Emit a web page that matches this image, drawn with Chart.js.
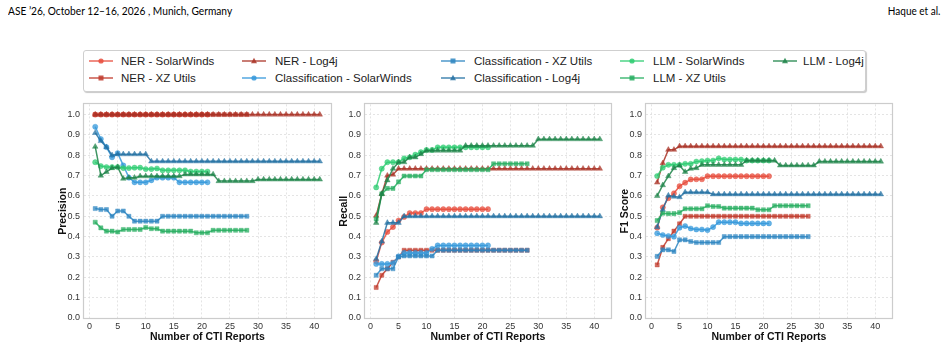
<!DOCTYPE html>
<html><head><meta charset="utf-8">
<script src="https://cdn.jsdelivr.net/npm/chart.js@4.4.0/dist/chart.umd.min.js"></script>
<style>
html,body{margin:0;padding:0;background:#fff;}
body{width:948px;height:349px;position:relative;overflow:hidden;font-family:"Liberation Sans",Arial,sans-serif;}
.hdr{position:absolute;top:4px;font-family:Lato,"Liberation Sans",sans-serif;font-size:11.5px;color:#000;line-height:14px;white-space:nowrap;}
canvas{position:absolute;}
#legend{position:absolute;left:83px;top:50px;width:781px;height:40px;border:1px solid #cfcfcf;border-radius:3px;box-shadow:1px 1px 1px rgba(0,0,0,0.22);background:#fff;}
.lt{position:absolute;font-size:11.5px;color:#222;white-space:nowrap;line-height:14px;}
.lm{position:absolute;}
</style></head><body>
<div class="hdr" style="left:8px;transform:scaleX(0.885);transform-origin:left center">ASE ’26, October 12–16, 2026 , Munich, Germany</div>
<div class="hdr" style="right:8px;transform:scaleX(0.87);transform-origin:right center">Haque et al.</div>
<div id="legend"></div>
<canvas id="c1" width="285" height="254" style="left:52px;top:95px"></canvas>
<canvas id="c2" width="284" height="254" style="left:333px;top:95px"></canvas>
<canvas id="c3" width="284" height="254" style="left:614px;top:95px"></canvas>
<script>
// ---------- DATA ----------
const reportNumbers = [1,2,3,4,5,6,7,8,9,10,11,12,13,14,15,16,17,18,19,20,21,22,23,24,25,26,27,28,29,30,31,32,33,34,35,36,37,38,39,40,41];
const xTickValues = [0,5,10,15,20,25,30,35,40];
const yTickValues = [0.0,0.1,0.2,0.3,0.4,0.5,0.6,0.7,0.8,0.9,1.0];
const seriesLabels = ["NER - SolarWinds","NER - XZ Utils","NER - Log4j","Classification - SolarWinds","Classification - XZ Utils","Classification - Log4j","LLM - SolarWinds","LLM - XZ Utils","LLM - Log4j"];
const panelTitles = ["Precision","Recall","F1 Score"];

// Precision
const precisionNerSolarWinds = [1,1,1,1,1,1,1,1,1,1,1,1,1,1,1,1,1,1,1,1,1];
const precisionNerXzUtils = [1,1,1,1,1,1,1,1,1,1,1,1,1,1,1,1,1,1,1,1,1,1,1,1,1,1,1,1];
const precisionNerLog4j = [1,1,1,1,1,1,1,1,1,1,1,1,1,1,1,1,1,1,1,1,1,1,1,1,1,1,1,1,1,1,1,1,1,1,1,1,1,1,1,1,1];
const precisionClsSolarWinds = [0.94,0.88,0.84,0.79,0.81,0.75,0.69,0.667,0.667,0.667,0.677,0.69,0.69,0.69,0.69,0.667,0.667,0.667,0.667,0.667,0.667];
const precisionClsXzUtils = [0.538,0.533,0.533,0.5,0.526,0.526,0.5,0.476,0.476,0.476,0.476,0.476,0.5,0.5,0.5,0.5,0.5,0.5,0.5,0.5,0.5,0.5,0.5,0.5,0.5,0.5,0.5,0.5];
const precisionClsLog4j = [0.91,0.87,0.84,0.8,0.805,0.805,0.805,0.805,0.805,0.805,
  0.77,0.77,0.77,0.77,0.77,0.77,0.77,0.77,0.77,0.77,0.77,0.77,0.77,0.77,0.77,0.77,0.77,0.77,0.77,0.77,0.77,0.77,0.77,0.77,0.77,0.77,0.77,0.77,0.77,0.77,0.77];
const precisionLlmSolarWinds = [0.766,0.747,0.742,0.742,0.742,0.737,0.737,0.739,0.739,0.732,0.732,0.735,0.726,0.726,0.726,0.726,0.726,0.72,0.72,0.72,0.72];
const precisionLlmXzUtils = [0.471,0.443,0.427,0.427,0.423,0.435,0.435,0.435,0.435,0.445,0.439,0.439,0.427,0.427,0.427,0.427,0.427,0.427,0.419,0.419,0.419,0.431,0.431,0.431,0.431,0.431,0.431,0.431];
const precisionLlmLog4j = [0.842,0.70,0.718,0.737,0.742,0.685,0.69,0.69,
  0.697,0.697,0.697,0.697,0.697,0.697,0.697,0.697,
  0.706,0.706,0.706,0.706,0.706,0.706,
  0.673,0.673,0.673,0.673,0.673,0.673,0.673,
  0.681,0.681,0.681,0.681,0.681,0.681,0.681,0.681,0.681,0.681,0.681,0.681];

// Recall
const recallNerSolarWinds = [0.279,0.371,0.423,0.447,0.479,0.497,0.516,0.516,0.516,0.535,0.535,0.535,0.535,0.535,0.535,0.535,0.535,0.535,0.535,0.535,0.535];
const recallNerXzUtils = [0.15,0.21,0.242,0.274,0.30,0.333,0.333,0.333,0.333,0.333,0.333,0.333,0.333,0.333,0.333,0.333,0.333,0.333,0.333,0.333,0.333,0.333,0.333,0.333,0.333,0.333,0.333,0.333];
const recallNerLog4j = [0.503,0.61,0.70,0.705,
  0.734,0.734,0.734,0.734,0.734,0.734,0.734,0.734,0.734,0.734,0.734,0.734,0.734,0.734,0.734,0.734,0.734,0.734,0.734,0.734,0.734,0.734,0.734,0.734,0.734,0.734,0.734,0.734,0.734,0.734,0.734,0.734,0.734,0.734,0.734,0.734,0.734];
const recallClsSolarWinds = [0.266,0.266,0.266,0.27,0.303,0.32,0.32,0.32,0.32,0.32,0.34,0.357,0.357,0.357,0.357,0.357,0.357,0.357,0.357,0.357,0.357];
const recallClsXzUtils = [0.21,0.242,0.242,0.242,0.30,0.305,0.305,0.305,0.305,0.305,0.305,0.333,0.333,0.333,0.333,0.333,0.333,0.333,0.333,0.333,0.333,0.333,0.333,0.333,0.333,0.333,0.333,0.333];
const recallClsLog4j = [0.29,0.376,0.468,0.468,0.468,
  0.5,0.5,0.5,0.5,0.5,0.5,0.5,0.5,0.5,0.5,0.5,0.5,0.5,0.5,0.5,0.5,0.5,0.5,0.5,0.5,0.5,0.5,0.5,0.5,0.5,0.5,0.5,0.5,0.5,0.5,0.5,0.5,0.5,0.5,0.5,0.5];
const recallLlmSolarWinds = [0.642,0.734,0.766,0.766,0.766,0.785,0.79,0.803,0.815,0.826,0.826,0.839,0.839,0.839,0.839,0.839,0.839,0.839,0.839,0.839,0.839];
const recallLlmXzUtils = [0.487,0.61,0.637,0.637,0.669,0.698,0.698,0.698,0.698,0.729,0.729,0.729,0.729,0.729,0.729,0.729,0.729,0.729,0.729,0.729,0.729,0.758,0.758,0.758,0.758,0.758,0.758,0.758];
const recallLlmLog4j = [0.468,0.61,0.677,0.734,0.766,0.766,0.79,0.79,0.806,
  0.823,0.823,0.823,0.823,0.823,0.823,0.823,
  0.847,0.847,0.847,0.847,0.847,0.847,0.847,0.847,0.847,0.847,0.847,0.847,0.847,
  0.879,0.879,0.879,0.879,0.879,0.879,0.879,0.879,0.879,0.879,0.879,0.879];

// F1 Score
const f1NerSolarWinds = [0.444,0.544,0.589,0.613,0.648,0.665,0.681,0.682,0.682,0.697,0.697,0.697,0.697,0.697,0.697,0.697,0.697,0.697,0.697,0.697,0.697];
const f1NerXzUtils = [0.261,0.347,0.39,0.427,0.463,0.5,0.5,0.5,0.5,0.5,0.5,0.5,0.5,0.5,0.5,0.5,0.5,0.5,0.5,0.5,0.5,0.5,0.5,0.5,0.5,0.5,0.5,0.5];
const f1NerLog4j = [0.666,0.761,0.827,0.827,
  0.844,0.844,0.844,0.844,0.844,0.844,0.844,0.844,0.844,0.844,0.844,0.844,0.844,0.844,0.844,0.844,0.844,0.844,0.844,0.844,0.844,0.844,0.844,0.844,0.844,0.844,0.844,0.844,0.844,0.844,0.844,0.844,0.844,0.844,0.844,0.844,0.844];
const f1ClsSolarWinds = [0.416,0.408,0.403,0.4,0.444,0.452,0.44,0.435,0.435,0.432,0.447,0.471,0.471,0.471,0.471,0.465,0.465,0.465,0.465,0.465,0.465];
const f1ClsXzUtils = [0.303,0.335,0.335,0.327,0.384,0.384,0.376,0.371,0.371,0.371,0.371,0.371,0.4,0.4,0.4,0.4,0.4,0.4,0.4,0.4,0.4,0.4,0.4,0.4,0.4,0.4,0.4,0.4];
const f1ClsLog4j = [0.447,0.532,0.602,0.597,0.594,0.618,0.618,0.618,0.618,0.618,
  0.608,0.608,0.608,0.608,0.608,0.608,0.608,0.608,0.608,0.608,0.608,0.608,0.608,0.608,0.608,0.608,0.608,0.608,0.608,0.608,0.608,0.608,0.608,0.608,0.608,0.608,0.608,0.608,0.608,0.608,0.608];
const f1LlmSolarWinds = [0.698,0.739,0.753,0.753,0.753,0.758,0.758,0.769,0.771,0.774,0.774,0.785,0.779,0.779,0.779,0.779,0.774,0.774,0.774,0.774,0.774];
const f1LlmXzUtils = [0.479,0.515,0.513,0.513,0.518,0.537,0.537,0.537,0.537,0.552,0.548,0.548,0.54,0.54,0.54,0.54,0.54,0.54,0.532,0.532,0.532,0.552,0.552,0.552,0.552,0.552,0.552,0.552];
const f1LlmLog4j = [0.6,0.653,0.697,0.737,0.75,0.718,0.734,0.737,
  0.753,0.753,0.753,0.753,0.753,0.753,0.753,0.753,
  0.774,0.774,0.774,0.774,0.774,0.774,
  0.75,0.75,0.75,0.75,0.75,0.75,0.75,
  0.769,0.769,0.769,0.769,0.769,0.769,0.769,0.769,0.769,0.769,0.769,0.769];

// ---------- STYLE ----------
const seriesColors = ['#e74c3c','#c0392b','#a93226','#3498db','#2e86c1','#2471a3','#2ecc71','#27ae60','#1e8449'];
const seriesShapes = ['circle','rect','triangle','circle','rect','triangle','circle','rect','triangle'];
const panelData = [
  [precisionNerSolarWinds,precisionNerXzUtils,precisionNerLog4j,precisionClsSolarWinds,precisionClsXzUtils,precisionClsLog4j,precisionLlmSolarWinds,precisionLlmXzUtils,precisionLlmLog4j],
  [recallNerSolarWinds,recallNerXzUtils,recallNerLog4j,recallClsSolarWinds,recallClsXzUtils,recallClsLog4j,recallLlmSolarWinds,recallLlmXzUtils,recallLlmLog4j],
  [f1NerSolarWinds,f1NerXzUtils,f1NerLog4j,f1ClsSolarWinds,f1ClsXzUtils,f1ClsLog4j,f1LlmSolarWinds,f1LlmXzUtils,f1LlmLog4j]
];
function rgba(hex,a){const n=parseInt(hex.slice(1),16);return `rgba(${n>>16},${(n>>8)&255},${n&255},${a})`;}
const radiusFor = s => s==='triangle'?3.2:(s==='rect'?2.9:2.6);

const framePlugin = {
  id:'frame',
  beforeDatasetsDraw(chart){
    const {ctx, chartArea:a} = chart;
    ctx.save(); ctx.strokeStyle='#cccccc'; ctx.lineWidth=1.2;
    ctx.strokeRect(Math.round(a.left)-0.5, Math.round(a.top)-0.5, Math.round(a.right-a.left)+1, Math.round(a.bottom-a.top)+1);
    ctx.restore();
  }
};

const FONT = '"Liberation Sans", Arial, sans-serif';
function makePanel(id, title, arrays){
  const datasets = arrays.map((vals,i)=>({
    label: seriesLabels[i],
    data: vals.map((v,j)=>({x:reportNumbers[j], y:v})),
    borderColor: rgba(seriesColors[i],0.85),
    backgroundColor: rgba(seriesColors[i],0.75),
    pointBackgroundColor: rgba(seriesColors[i],0.75),
    pointBorderColor: rgba(seriesColors[i],0.75),
    pointBorderWidth: 0.5,
    pointStyle: seriesShapes[i],
    pointRadius: radiusFor(seriesShapes[i]),
    pointHoverRadius: radiusFor(seriesShapes[i]),
    borderWidth: 1.5,
    tension: 0,
    fill: false,
    order: 9 - i
  }));
  new Chart(document.getElementById(id), {
    type:'line',
    data:{datasets},
    plugins:[framePlugin],
    options:{
      responsive:false, animation:false, devicePixelRatio:1,
      layout:{padding:{top:6,right:6,left:0,bottom:0}},
      plugins:{legend:{display:false}, tooltip:{enabled:false}},
      scales:{
        x:{type:'linear', min:-1, max:43,
          afterBuildTicks:s=>{s.ticks = xTickValues.map(v=>({value:v}));},
          afterFit:s=>{s.height=31;},
          grid:{color:'#dedede', lineWidth:0.8, drawTicks:false},
          border:{display:false, dash:[2,2]},
          ticks:{padding:3, color:'#333', font:{family:FONT,size:9}, maxRotation:0, autoSkip:false},
          title:{display:true, text:'Number of CTI Reports', color:'#111', font:{family:FONT,size:10.5,weight:'bold'}, padding:{top:0,bottom:6}}
        },
        y:{type:'linear', min:0, max:1.05,
          afterBuildTicks:s=>{s.ticks = yTickValues.map(v=>({value:v}));},
          afterFit:s=>{s.width=32;},
          grid:{color:'#dedede', lineWidth:0.8, drawTicks:false},
          border:{display:false, dash:[2,2]},
          ticks:{padding:4, color:'#333', font:{family:FONT,size:9}, callback:v=>Number(v).toFixed(1)},
          title:{display:true, text:title, color:'#111', font:{family:FONT,size:10.5,weight:'bold'}, padding:{top:5,bottom:0}}
        }
      }
    }
  });
}
makePanel('c1', panelTitles[0], panelData[0]);
makePanel('c2', panelTitles[1], panelData[1]);
makePanel('c3', panelTitles[2], panelData[2]);

// ---------- LEGEND (matplotlib-style, column-major, 5 columns) ----------
const legendMarkerX = [89,242,441,620,773];
const legendTextX = [121,275,474,653,803];
const legendRowY = [61,78];
const lg = document.getElementById('legend');
seriesLabels.forEach((lab,i)=>{
  const col = Math.floor(i/2), row = i%2;
  const c = document.createElement('canvas');
  c.width=24; c.height=10; c.className='lm';
  c.style.left=(legendMarkerX[col]-84)+'px'; c.style.top=(legendRowY[row]-5-51)+'px';
  const g=c.getContext('2d');
  g.strokeStyle=rgba(seriesColors[i],0.85); g.lineWidth=1.5;
  g.beginPath(); g.moveTo(0,5); g.lineTo(24,5); g.stroke();
  g.fillStyle=rgba(seriesColors[i],0.85);
  const s=seriesShapes[i];
  if(s==='circle'){g.beginPath();g.arc(12,5,2.6,0,Math.PI*2);g.fill();}
  else if(s==='rect'){g.fillRect(9.5,2.5,5,5);}
  else {g.beginPath();g.moveTo(12,1.8);g.lineTo(15,7.3);g.lineTo(9,7.3);g.closePath();g.fill();}
  lg.appendChild(c);
  const t=document.createElement('div'); t.className='lt'; t.textContent=lab;
  t.style.left=(legendTextX[col]-84)+'px'; t.style.top=(legendRowY[row]-7-51)+'px';
  lg.appendChild(t);
});
</script>
</body></html>
